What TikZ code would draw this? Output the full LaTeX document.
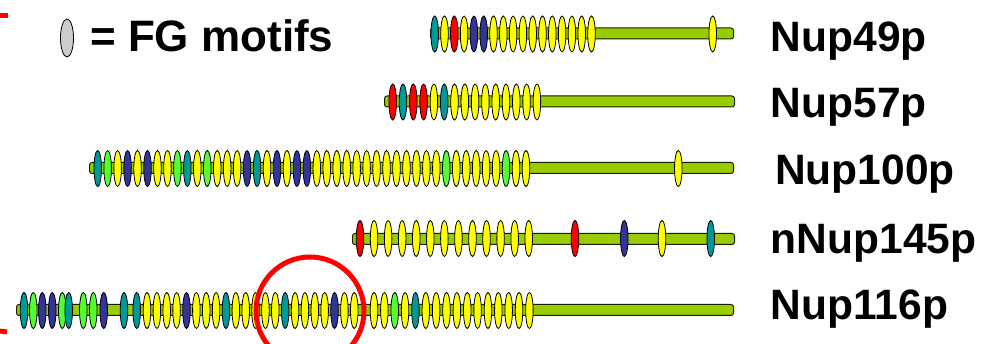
\documentclass[tikz,border=0pt]{standalone}
\usepackage{fontspec}
\setmainfont{Liberation Sans}
\usetikzlibrary{shapes.geometric}
\definecolor{mY}{HTML}{FFFF00}
\definecolor{mR}{HTML}{FF0000}
\definecolor{mT}{HTML}{009999}
\definecolor{mN}{HTML}{333399}
\definecolor{mG}{HTML}{55FF33}
\definecolor{barG}{HTML}{99CC00}
\definecolor{legG}{HTML}{CCCCCC}
\tikzset{
  motif/.style={ellipse, draw=black, line width=0.8pt, inner sep=0pt, minimum width=7.5pt, minimum height=36pt, fill=#1},
  barbox/.style={rectangle, draw=black!85!barG, line width=1pt, fill=barG, rounded corners=2.5pt, inner sep=0pt, minimum height=11pt, anchor=west},
  lbl/.style={anchor=base west, inner sep=0pt, font=\fontsize{42.5}{50}\selectfont\bfseries},
  ring/.style={draw=red, line width=5pt},
}
\begin{document}
\begin{tikzpicture}[x=1pt,y=-1pt]
\useasboundingbox (0,0) rectangle (994,344);
\fill[white] (0,0) rectangle (994,344);
% red marks at left edge
\coordinate (ra) at (0,15.5); \coordinate (rb) at (8,15.5);
\draw[red, line width=5pt] (ra) -- (rb);
\coordinate (rc) at (0,331); \coordinate (rd) at (7,332);
\draw[red, line width=5pt] (rc) -- (rd);
% legend
\node[motif=legG, minimum width=13pt, minimum height=38pt] (leg) at (67,38) {};
\node[lbl, font=\fontsize{44}{50}\selectfont\bfseries] (legt) at (90,52) {= FG motifs};
% Nup49p
\node[barbox, minimum width=303pt] (b49) at (430,33.5) {};
\foreach \c [count=\i from 0] in {mT,mY,mR,mY,mN,mN,mY,mY,mY,mY,mY,mY,mY,mY,mY,mY,mY}
  \node[motif=\c] (m49-\i) at ({434.7+\i*9.8},34) {};
\node[motif=mY] (m49-x) at (712.7,34) {};
\node[lbl] (l49) at (770.7,51.7) {Nup49p};
% Nup57p
\node[barbox, minimum width=350pt] (b57) at (384,101.5) {};
\foreach \c [count=\i from 0] in {mR,mT,mR,mR,mY,mT,mY,mY,mY,mY,mY,mY,mY,mY,mY}
  \node[motif=\c] (m57-\i) at ({392.7+\i*10.3},102) {};
\node[lbl] (l57) at (770.7,117.7) {Nup57p};
% Nup100p
\node[barbox, minimum width=644pt] (b100) at (89,168) {};
\foreach \c [count=\i from 0] in {mT,mG,mY,mN,mY,mN,mY,mY,mG,mT,mY,mG,mY,mY,mY,mN,mT,mY,mN,mY,mN,mN,mY,mY,mY,mY,mY,mY,mY,mY,mY,mY,mY,mY,mY,mG,mY,mY,mY,mY,mY,mG,mY,mY}
  \node[motif=\c] (m100-\i) at ({97.7+\i*9.96},168.5) {};
\node[motif=mY] (m100-x) at (678.3,168.5) {};
\node[lbl] (l100) at (775,184.3) {Nup100p};
% nNup145p
\node[barbox, minimum width=382pt] (b145) at (352,239) {};
\foreach \c [count=\i from 0] in {mR,mY,mY,mY,mY,mY,mY,mY,mY,mY,mY,mY,mY}
  \node[motif=\c] (m145-\i) at ({360+\i*14.06},238.5) {};
\node[motif=mR] (m145-a) at (575,238.5) {};
\node[motif=mN] (m145-b) at (624.3,238.5) {};
\node[motif=mY] (m145-c) at (662,238.5) {};
\node[motif=mT] (m145-d) at (710.7,238.5) {};
\node[lbl] (l145) at (770.7,254) {nNup145p};
% Nup116p
\node[barbox, minimum width=717pt] (b116) at (16,310) {};
\foreach \xx/\c [count=\i] in {24/mT,33.3/mG,42.3/mN,52.3/mN,62.3/mG,68.7/mT,83.3/mG,93.3/mG,103.7/mN,124/mT,136.7/mT}
  \node[motif=\c] (m116a-\i) at (\xx,310.5) {};
\foreach \c [count=\i from 0] in {mY,mY,mY,mY,mN,mY,mY,mY,mT,mY,mY,mY,mY,mY,mT,mY,mY,mY,mY,mN,mY,mY}
  \node[motif=\c] (m116b-\i) at ({147+\i*9.87},310.5) {};
\foreach \c [count=\i from 0] in {mY,mY,mG,mY,mT,mY,mY,mY,mY,mY,mY,mY,mY,mY,mY,mY}
  \node[motif=\c] (m116c-\i) at ({374+\i*10.36},310.5) {};
\node[lbl] (l116) at (770.7,320) {Nup116p};
% red circle
\node[circle, ring, minimum size=108pt, inner sep=0pt] (ring) at (310,311) {};
\end{tikzpicture}
\end{document}
